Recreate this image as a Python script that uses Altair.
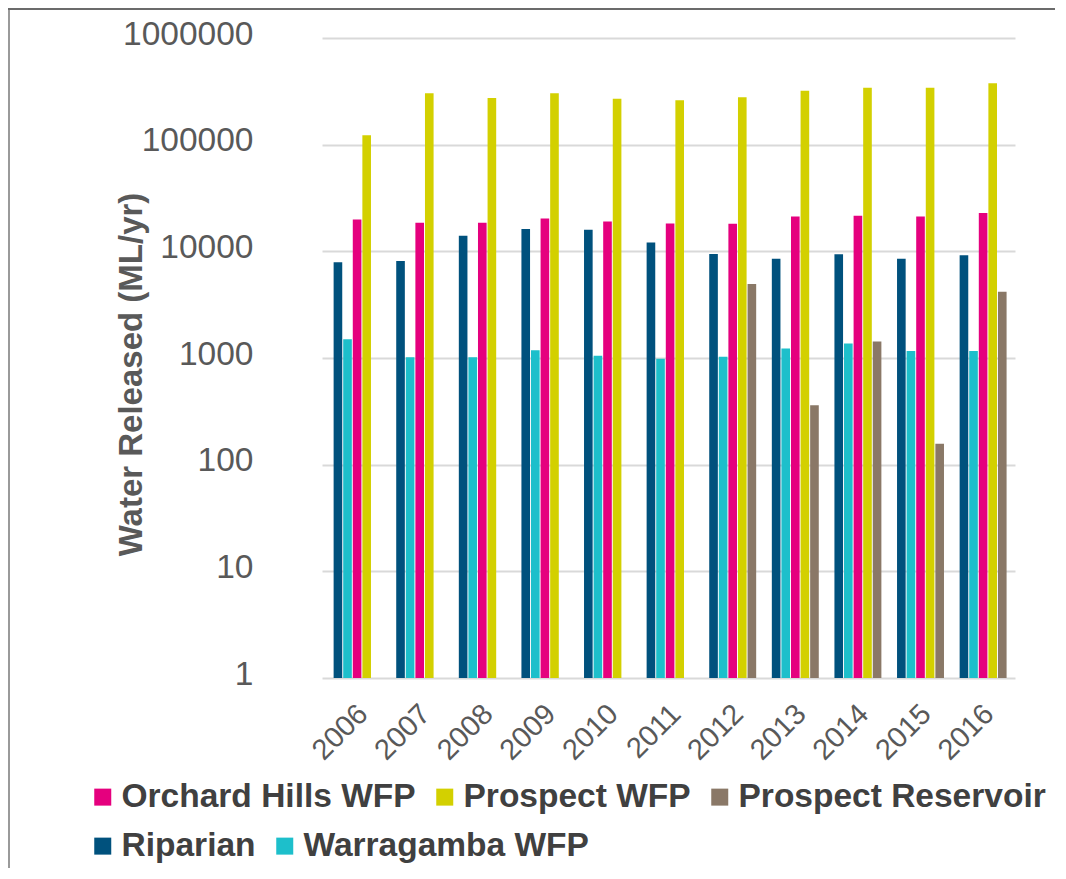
import altair as alt
import pandas as pd

years = ["2006", "2007", "2008", "2009", "2010", "2011", "2012", "2013", "2014", "2015", "2016"]
riparian = [7880, 8130, 14000, 16200, 15900, 12100, 9460, 8530, 9370, 8530, 9170]
warragamba = [1500, 1015, 1015, 1180, 1050, 985, 1030, 1230, 1370, 1160, 1160]
orchard_hills = [19900, 18500, 18500, 20300, 19000, 18200, 18100, 21200, 21500, 21200, 22900]
prospect_wfp = [122500, 304000, 274000, 304000, 270000, 261000, 279000, 320000, 341000, 341000, 377000]
prospect_res = [None, None, None, None, None, None, 4950, 360, 1430, 157, 4190]

legend_row1 = ["Orchard Hills WFP", "Prospect WFP", "Prospect Reservoir"]
colors_row1 = ["#E5007E", "#D3D000", "#8A7867"]
legend_row2 = ["Riparian", "Warragamba WFP"]
colors_row2 = ["#00517D", "#1DBFCB"]
bar_order = ["Riparian", "Warragamba WFP", "Orchard Hills WFP", "Prospect WFP", "Prospect Reservoir"]
y_ticks = [1, 10, 100, 1000, 10000, 100000, 1000000]

series_values = {
    "Riparian": riparian,
    "Warragamba WFP": warragamba,
    "Orchard Hills WFP": orchard_hills,
    "Prospect WFP": prospect_wfp,
    "Prospect Reservoir": prospect_res,
}

rows = []
for name, vals in series_values.items():
    for yr, v in zip(years, vals):
        if v is not None:
            rows.append({"year": yr, "series": name, "value": float(v)})
df = pd.DataFrame(rows)

W, H = 693, 640

legend_common = dict(
    title=None, orient="none", direction="horizontal", padding=0, offset=0,
    symbolType="square", symbolSize=289, symbolStrokeWidth=0,
    labelFontSize=33.5, labelFontWeight="bold", labelColor="#404040",
    labelFont="Liberation Sans", labelOffset=2, labelLimit=600,
    columnPadding=12,
)

base = alt.Chart(df).encode(
    x=alt.X("year:N", sort=years,
            scale=alt.Scale(paddingInner=0.25, paddingOuter=0.16, align=0.58),
            axis=alt.Axis(title=None, labelAngle=-45, labelFontSize=29, labelColor="#595959",
                          labelFont="Liberation Sans", labelPadding=21, labelOffset=-4,
                          ticks=False, domain=False, grid=False)),
    xOffset=alt.XOffset("series:N", scale=alt.Scale(domain=bar_order, paddingInner=0.1)),
    y=alt.Y("value:Q",
            scale=alt.Scale(type="log", domain=[1, 1000000], nice=False),
            axis=alt.Axis(title="Water Released (ML/yr)", values=y_ticks, format="d",
                          labelFontSize=33.5, labelColor="#595959", labelFont="Liberation Sans",
                          labelPadding=69, labelOffset=-4, ticks=False, domain=False,
                          gridColor="#D9D9D9", gridWidth=2,
                          titleFontSize=33, titleFontWeight="bold", titleColor="#595959",
                          titleFont="Liberation Sans", titleAngle=-90, titleAlign="center",
                          titleBaseline="alphabetic", titleX=-181, titleY=336)),
    y2=alt.datum(1),
)

bars_row1 = base.transform_filter(
    alt.FieldOneOfPredicate(field="series", oneOf=legend_row1)
).mark_bar().encode(
    color=alt.Color("series:N", scale=alt.Scale(domain=legend_row1, range=colors_row1),
                    legend=alt.Legend(legendX=-236, legendY=742, **legend_common)),
)

bars_row2 = base.transform_filter(
    alt.FieldOneOfPredicate(field="series", oneOf=legend_row2)
).mark_bar().encode(
    fill=alt.Fill("series:N", scale=alt.Scale(domain=legend_row2, range=colors_row2),
                  legend=alt.Legend(legendX=-236, legendY=791, **legend_common)),
)

left_border = alt.Chart(alt.Data(values=[{}])).mark_rule(color="#9A9A9A", strokeWidth=2).encode(
    x=alt.value(-313), y=alt.value(-30), y2=alt.value(H + 190))
top_border = alt.Chart(alt.Data(values=[{}])).mark_rule(color="#6B6B6B", strokeWidth=2).encode(
    x=alt.value(-314), x2=alt.value(W + 40), y=alt.value(-29))

chart = alt.layer(bars_row1, bars_row2, left_border, top_border).properties(
    width=W, height=H,
    background="white",
    autosize=alt.AutoSizeParams(type="none"),
    padding={"left": 314, "top": 30, "right": 40, "bottom": 190},
).configure_view(strokeWidth=0)

chart.save("out.html", embed_options={"renderer": "svg", "actions": False})
